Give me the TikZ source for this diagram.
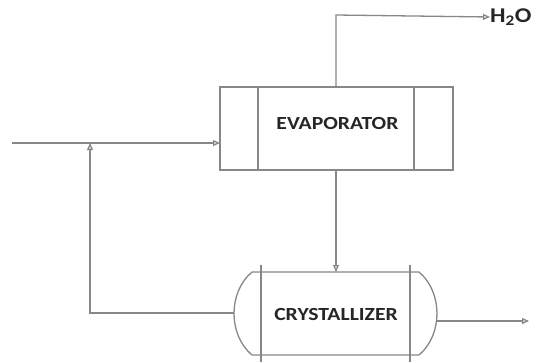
\documentclass[tikz,border=0pt]{standalone}
\usepackage{fontspec}
\setmainfont{Carlito}
\newfontfamily\lblfont[FakeStretch=1.17]{Carlito}
\usetikzlibrary{arrows.meta}
\definecolor{ln}{RGB}{135,135,135}
\tikzset{
  x=1pt,y=-1pt,
  pipe/.style={draw=ln,line width=1.3pt},
  flow/.style={pipe,-{Triangle[open,length=7pt,width=6pt]}},
  unit/.style={draw=ln,line width=1.3pt,minimum width=233pt,minimum height=83pt,inner sep=0pt},
  lbl/.style={font=\lblfont\bfseries\fontsize{18.5}{20}\selectfont,text=black!85,inner sep=0pt},
}
\begin{document}
\begin{tikzpicture}
\useasboundingbox (0,0) rectangle (544,362);
% evaporator
\node[unit] (evap) at (336.5,128.5) {};
\node[lbl] (evaptxt) at (337.5,123) {EVAPORATOR};
\draw[pipe] (258,87) -- (258,170);
\draw[pipe] (414,87) -- (414,170);
% crystallizer
\draw[pipe] (252,272) -- (419,272)
  .. controls (431,282) and (437,298) .. (437,313.5)
  .. controls (437,329) and (431,345) .. (419,355)
  -- (252,355)
  .. controls (240,345) and (234,329) .. (234,313.5)
  .. controls (234,298) and (240,282) .. (252,272) -- cycle;
\draw[pipe] (261,265) -- (261,362);
\draw[pipe] (410,265) -- (410,362);
\node[lbl] (cryst) at (336,314.5) {CRYSTALLIZER};
% coordinates
\coordinate (feed) at (12,143);
\coordinate (evin) at (220,143);
\coordinate (top) at (336,15);
\coordinate (evout) at (336,87);
\coordinate (evbot) at (336,170);
\coordinate (crtop) at (336,272);
\coordinate (crleft) at (234,313);
\coordinate (rec) at (90,313);
\coordinate (recup) at (90,143);
\coordinate (crright) at (436,321);
\coordinate (prod) at (529,321);
\node[lbl,anchor=west,font=\lblfont\bfseries\fontsize{21}{23}\selectfont] (water) at (490,17) {H\textsubscript{2}O};
% connectors
\draw[flow] (feed) -- (evin);
\draw[flow] (evout) -- (top) -- (water.west);
\draw[flow] (evbot) -- (crtop);
\draw[flow] (crleft) -- (rec) -- (recup);
\draw[flow] (crright) -- (prod);
\end{tikzpicture}
\end{document}
